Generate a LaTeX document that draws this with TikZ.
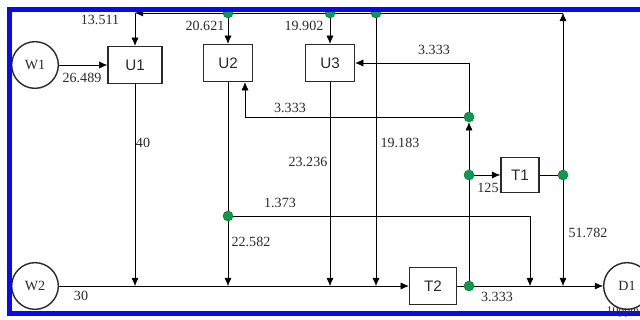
\documentclass[tikz,border=0pt]{standalone}
\usepackage{fontspec}
\setmainfont{Liberation Serif}
\setsansfont{Liberation Sans}
\usetikzlibrary{arrows.meta,positioning,backgrounds}
\definecolor{net-green}{HTML}{0B9B4B}
\definecolor{net-blue}{HTML}{0A0AF0}
\definecolor{net-dark}{HTML}{2A2A2A}

\begin{document}
\begin{tikzpicture}[x=0.03cm,y=-0.03cm,color=net-dark,line width=1.2pt,
  >={Latex[length=7pt,width=6pt]},
  unitbox/.style={draw,fill=white,minimum width=1.47cm,minimum height=1.11cm,
    inner sep=0pt,font=\sffamily\fontsize{13}{15}\selectfont},
  endnode/.style={draw,circle,fill=white,minimum size=1.4cm,inner sep=0pt,
    font=\fontsize{12}{14}\selectfont},
  splitdot/.style={circle,fill=net-green,draw=net-green!75!black,line width=0.4pt,
    minimum size=0.3cm,inner sep=0pt},
  flowlbl/.style={inner sep=0pt,font=\fontsize{12}{14}\selectfont}]
  \useasboundingbox (0,0) rectangle (640,320);

  % units and ends
  \node[endnode] (W1) at (35,65) {W1};
  \node[unitbox,minimum width=1.62cm] (U1) at (135,65) {U1};
  \node[unitbox] (U2) at (228,63) {U2};
  \node[unitbox] (U3) at (330,63) {U3};
  \node[unitbox,minimum width=1.15cm,minimum height=1.05cm] (T1) at (520,175) {T1};
  \node[unitbox,minimum width=1.41cm] (T2) at (433,286) {T2};
  \node[endnode] (W2) at (35,286) {W2};
  \node[endnode] (D1) at (627,286) {D1};

  % split points
  \node[splitdot] (t2) at (228,13) {};
  \node[splitdot] (t3) at (330,13) {};
  \node[splitdot] (t4) at (376,13) {};
  \node[splitdot] (r1) at (469,117) {};
  \node[splitdot] (r2) at (469,175) {};
  \node[splitdot] (r3) at (469,286) {};
  \node[splitdot] (s1) at (563,175) {};
  \node[splitdot] (m1) at (228,216) {};

  \coordinate (cTL) at (135,13);
  \coordinate (cTR) at (563,13);
  \coordinate (cU3) at (469,63);
  \coordinate (cU2) at (245,117);
  \coordinate (cM) at (530,216);

  % connectors
  \begin{scope}[on background layer]
    \draw[->] (W1) -- (U1);
    \draw[->] (s1) -- (cTR);
    \draw[->] (cTR) -- (cTL);
    \draw[->] (cTL) -- (U1);
    \draw[->] (t2) -- (U2);
    \draw[->] (t3) -- (U3);
    \draw[->] (t4) -- (t4 |- W2);
    \draw[->] (W2) -- (T2);
    \draw[->] (U1) -- (U1 |- W2);
    \draw (U2) -- (m1);
    \draw[->] (m1) -- (m1 |- W2);
    \draw[->] (U3) -- (U3 |- W2);
    \draw (m1) -- (cM);
    \draw[->] (cM) -- (cM |- W2);
    \draw (T2) -- (r3);
    \draw[->] (r3) -- (D1);
    \draw (r3) -- (r2);
    \draw[->] (r2) -- (T1);
    \draw[->] (r2) -- (r1);
    \draw (r1) -- (cU3);
    \draw[->] (cU3) -- (U3);
    \draw (r1) -- (cU2);
    \draw[->] (cU2) -- (U2.south -| cU2);
    \draw (T1) -- (s1);
    \draw[->] (s1) -- (s1 |- W2);
  \end{scope}

  % flow values
  \node[flowlbl] (l1) at (100,20) {13.511};
  \node[flowlbl] (l2) at (82,78) {26.489};
  \node[flowlbl] (l3) at (205,26) {20.621};
  \node[flowlbl] (l4) at (304,26) {19.902};
  \node[flowlbl] (l5) at (434,50) {3.333};
  \node[flowlbl] (l6) at (290,108) {3.333};
  \node[flowlbl] (l7) at (143,143) {40};
  \node[flowlbl] (l8) at (308,162) {23.236};
  \node[flowlbl] (l9) at (400,143) {19.183};
  \node[flowlbl] (l10) at (280,203) {1.373};
  \node[flowlbl] (l11) at (251,242) {22.582};
  \node[flowlbl] (l12) at (488,188) {125};
  \node[flowlbl] (l13) at (588,233) {51.782};
  \node[flowlbl] (l14) at (497,297) {3.333};
  \node[flowlbl] (l15) at (81,296) {30};

  % frame
  \draw[net-blue,line width=0.15cm] (640,9.5) -- (9.5,9.5) -- (9.5,313.5) -- (640,313.5);
  \node[flowlbl,font=\fontsize{10}{12}\selectfont,anchor=west] (l16) at (606,312) {10ppm};
\end{tikzpicture}
\end{document}
